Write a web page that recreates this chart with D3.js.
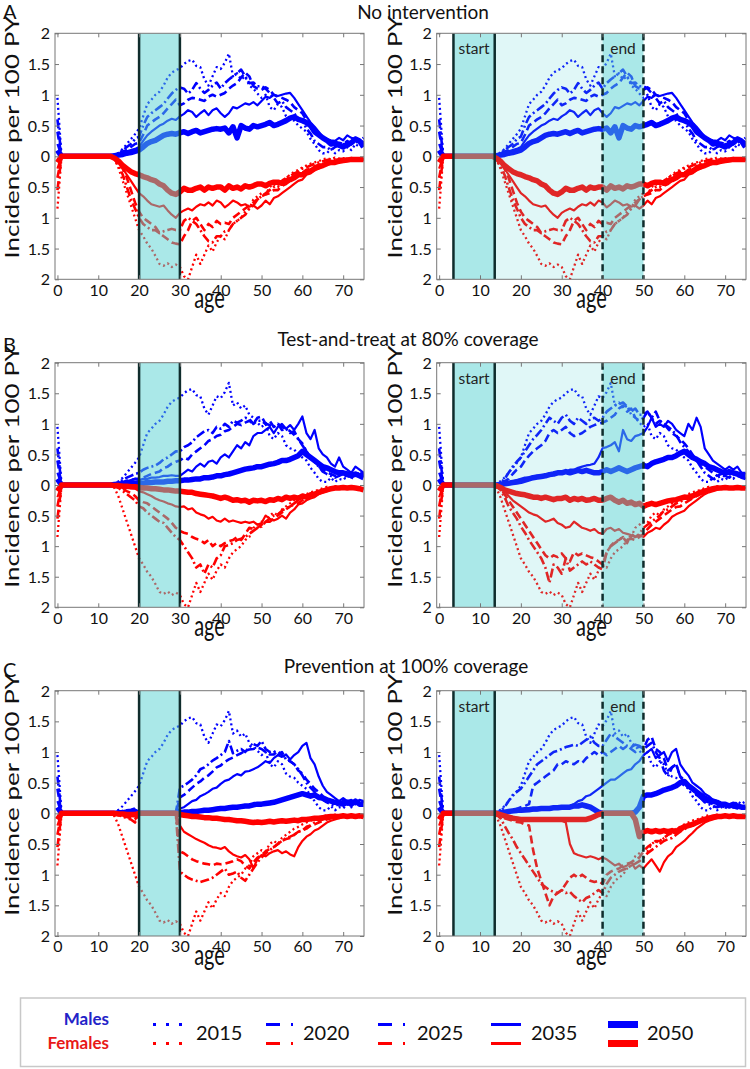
<!DOCTYPE html>
<html><head><meta charset="utf-8">
<script src="https://cdn.jsdelivr.net/npm/d3@7"></script>
<style>body{margin:0;background:#fff}svg{display:block}text{font-family:Lato,"Open Sans",sans-serif}</style>
</head><body>
<svg id="chart" width="750" height="1069"></svg>
<script>
// ---------------- DATA ----------------
const ages = d3.range(0, 76);
const years = ["2015", "2020", "2025", "2035", "2050"];
const yTicks = [-2, -1.5, -1, -0.5, 0, 0.5, 1, 1.5, 2];
const xTicks = [0, 10, 20, 30, 40, 50, 60, 70];
const panelTitles = ["No intervention", "Test-and-treat at 80% coverage", "Prevention at 100% coverage"];
const panelLetters = ["A", "B", "C"];

// 2015 curves (shared by all panels)
const male2015 = [
0.95,0,0,0,0,0,0,0,0,0,
0,0,0,0,0.02,0.06,0.12,0.2,0.28,0.36,
0.45,0.65,0.85,0.92,1.0,1.05,1.15,1.28,1.36,1.4,
1.43,1.5,1.55,1.57,1.47,1.45,1.25,1.15,1.3,1.45,
1.42,1.52,1.67,1.3,1.35,1.25,1.3,1.15,1.1,1.02,
0.95,1.0,0.8,0.75,0.85,0.8,0.65,0.6,0.58,0.5,
0.45,0.4,0.28,0.2,0.1,0.05,0.05,0.12,0.05,0.1,
0.08,0.15,0.1,0.2,0.15,0.2];
const female2015 = [
0.85,0,0,0,0,0,0,0,0,0,
0,0,0,0,0.05,0.2,0.4,0.6,0.8,1.0,
1.2,1.3,1.42,1.5,1.62,1.75,1.78,1.74,1.8,1.76,
1.8,1.95,2.0,1.8,1.6,1.75,1.6,1.45,1.55,1.4,
1.3,1.35,1.2,1.1,1.05,1.0,0.9,0.85,0.7,0.65,
0.6,0.62,0.5,0.45,0.5,0.4,0.35,0.3,0.25,0.22,
0.18,0.15,0.12,0.1,0.08,0.05,0.03,0.05,0.02,0.04,
0.03,0.05,0.04,0.05,0.06,0.05];

// A: no intervention (same in both A panels)
const maleA2020 = [
0.6,0,0,0,0,0,0,0,0,0,
0,0,0,0,0.02,0.05,0.1,0.15,0.2,0.28,
0.32,0.5,0.64,0.7,0.75,0.8,0.85,0.94,1.02,1.08,
1.12,1.1,1.02,1.08,1.19,1.1,1.03,1.08,1.15,1.2,
1.1,1.19,1.25,1.3,1.35,1.41,1.3,1.19,1.2,1.14,
1.14,1.1,1.03,0.95,0.86,0.9,0.8,0.75,0.7,0.6,
0.59,0.45,0.37,0.25,0.2,0.15,0.15,0.1,0.15,0.18,
0.2,0.15,0.2,0.25,0.2,0.25];
const maleA2025 = [
0.4,0,0,0,0,0,0,0,0,0,
0,0,0,0,0.01,0.04,0.08,0.1,0.15,0.2,
0.22,0.35,0.5,0.55,0.6,0.64,0.7,0.78,0.85,0.92,
0.83,0.86,0.92,0.95,0.94,0.92,0.9,0.97,1.0,0.97,
1.0,1.03,1.1,1.15,1.19,1.28,1.36,1.3,1.14,1.1,
1.08,1.12,1.08,1.0,0.97,0.95,0.92,0.88,0.8,0.75,
0.7,0.59,0.5,0.4,0.37,0.3,0.26,0.22,0.2,0.22,
0.2,0.25,0.2,0.3,0.25,0.3];
const maleA2035 = [
0.2,0,0,0,0,0,0,0,0,0,
0,0,0,0,0.01,0.03,0.05,0.08,0.1,0.12,
0.15,0.25,0.34,0.4,0.45,0.5,0.53,0.58,0.61,0.59,
0.65,0.69,0.75,0.72,0.64,0.7,0.75,0.67,0.75,0.78,
0.7,0.64,0.7,0.8,0.78,0.82,0.86,0.84,0.88,0.83,
0.9,0.97,0.95,1.0,0.98,1.0,1.02,1.03,0.95,0.85,
0.75,0.65,0.55,0.48,0.4,0.31,0.28,0.26,0.25,0.3,
0.26,0.34,0.3,0.28,0.24,0.2];
const maleA2050 = [
0.1,0,0,0,0,0,0,0,0,0,
0,0,0,0,0.01,0.02,0.03,0.05,0.06,0.08,
0.1,0.15,0.21,0.24,0.26,0.3,0.34,0.36,0.37,0.36,
0.38,0.4,0.37,0.4,0.42,0.38,0.4,0.42,0.44,0.45,
0.44,0.46,0.38,0.48,0.3,0.5,0.46,0.44,0.5,0.48,
0.5,0.52,0.55,0.5,0.52,0.55,0.58,0.62,0.64,0.6,
0.58,0.55,0.5,0.4,0.35,0.3,0.26,0.2,0.22,0.18,
0.15,0.2,0.22,0.28,0.25,0.15];
const femaleA2020 = [
0.55,0,0,0,0,0,0,0,0,0,
0,0,0,0,0.05,0.15,0.3,0.5,0.7,0.85,
1.0,1.1,1.15,1.2,1.2,1.25,1.22,1.2,1.18,1.2,
1.2,1.05,1.0,1.05,1.1,1.2,1.3,1.38,1.4,1.3,
1.3,1.22,1.2,1.1,1.05,1.0,0.95,0.85,0.8,0.7,
0.65,0.6,0.55,0.5,0.45,0.4,0.35,0.32,0.28,0.25,
0.2,0.18,0.15,0.12,0.1,0.08,0.06,0.05,0.05,0.04,
0.05,0.04,0.03,0.04,0.05,0.04];
const femaleA2025 = [
0.35,0,0,0,0,0,0,0,0,0,
0,0,0,0,0.04,0.1,0.2,0.35,0.55,0.75,
0.9,1.0,1.05,1.1,1.15,1.25,1.3,1.35,1.4,1.42,
1.43,1.3,1.2,1.05,1.0,1.1,1.2,1.1,1.15,1.05,
1.1,1.08,1.1,1.0,0.95,0.9,0.85,0.8,0.75,0.7,
0.65,0.62,0.6,0.55,0.55,0.48,0.45,0.4,0.35,0.3,
0.27,0.22,0.2,0.16,0.14,0.12,0.1,0.08,0.06,0.05,
0.04,0.05,0.04,0.05,0.06,0.05];
const femaleA2035 = [
0.2,0,0,0,0,0,0,0,0,0,
0,0,0,0,0.03,0.08,0.2,0.3,0.4,0.5,
0.6,0.65,0.72,0.78,0.8,0.82,0.8,0.88,0.95,1.0,
0.92,0.88,0.85,0.88,0.82,0.78,0.8,0.75,0.8,0.72,
0.75,0.83,0.78,0.72,0.75,0.8,0.78,0.82,0.8,0.85,
0.8,0.72,0.78,0.68,0.65,0.6,0.55,0.5,0.45,0.4,
0.38,0.3,0.28,0.22,0.2,0.15,0.12,0.1,0.1,0.08,
0.07,0.06,0.06,0.05,0.05,0.05];
const femaleA2050 = [
0.1,0,0,0,0,0,0,0,0,0,
0,0,0,0,0.03,0.08,0.15,0.2,0.25,0.28,
0.3,0.33,0.35,0.38,0.4,0.45,0.48,0.55,0.6,0.62,
0.58,0.52,0.55,0.55,0.52,0.5,0.55,0.5,0.52,0.5,
0.5,0.55,0.48,0.52,0.5,0.53,0.48,0.5,0.48,0.45,
0.45,0.48,0.44,0.42,0.42,0.44,0.4,0.38,0.35,0.3,
0.3,0.26,0.24,0.2,0.17,0.15,0.12,0.1,0.1,0.08,
0.07,0.06,0.05,0.05,0.05,0.05];

// B left: test-and-treat, ages 20-30
const maleBL2020 = [
0.6,0,0,0,0,0,0,0,0,0,
0,0,0,0,0.02,0.05,0.08,0.12,0.15,0.18,
0.2,0.25,0.28,0.3,0.32,0.36,0.42,0.45,0.5,0.55,
0.55,0.62,0.65,0.7,0.78,0.83,0.88,0.9,0.85,0.95,
0.92,1.0,0.95,1.05,1.02,1.05,1.1,1.08,1.0,1.05,
1.05,1.0,0.98,0.95,1.0,0.9,0.92,0.85,0.88,0.75,
0.65,0.55,0.45,0.38,0.3,0.22,0.18,0.15,0.12,0.15,
0.18,0.12,0.2,0.15,0.2,0.15];
const maleBL2025 = [
0.4,0,0,0,0,0,0,0,0,0,
0,0,0,0,0.01,0.03,0.05,0.07,0.08,0.1,
0.1,0.12,0.15,0.18,0.2,0.22,0.28,0.3,0.35,0.38,
0.4,0.45,0.42,0.5,0.55,0.6,0.65,0.72,0.75,0.8,
0.82,0.88,0.9,0.95,1.0,0.98,1.02,1.05,1.0,1.1,
1.12,1.0,1.05,0.95,1.0,0.95,0.92,0.88,0.82,0.75,
0.68,0.55,0.45,0.38,0.3,0.25,0.2,0.18,0.15,0.2,
0.18,0.22,0.2,0.15,0.2,0.18];
const maleBL2035 = [
0.2,0,0,0,0,0,0,0,0,0,
0,0,0,0,0.01,0.02,0.04,0.06,0.08,0.1,
0.08,0.1,0.1,0.12,0.12,0.13,0.15,0.15,0.16,0.15,
0.15,0.2,0.25,0.22,0.3,0.35,0.3,0.38,0.4,0.35,
0.45,0.5,0.45,0.55,0.65,0.6,0.7,0.65,0.8,0.85,
0.85,0.9,0.95,0.85,0.95,1.0,0.92,0.98,0.9,1.0,
1.12,0.85,0.75,0.9,0.6,0.5,0.45,0.35,0.3,0.45,
0.3,0.25,0.2,0.3,0.25,0.2];
const maleBL2050 = [
0.1,0,0,0,0,0,0,0,0,0,
0,0,0,0,0.01,0.01,0.02,0.02,0.03,0.03,
0.03,0.03,0.04,0.04,0.05,0.05,0.05,0.06,0.06,0.07,
0.07,0.08,0.08,0.09,0.1,0.1,0.12,0.12,0.13,0.15,
0.15,0.17,0.18,0.2,0.22,0.24,0.26,0.27,0.28,0.3,
0.3,0.32,0.34,0.35,0.37,0.4,0.4,0.42,0.45,0.48,
0.55,0.5,0.45,0.4,0.35,0.3,0.28,0.25,0.22,0.2,
0.2,0.18,0.15,0.18,0.15,0.12];
const femaleBL2020 = [
0.55,0,0,0,0,0,0,0,0,0,
0,0,0,0,0.02,0.05,0.1,0.15,0.2,0.25,
0.35,0.38,0.45,0.5,0.55,0.6,0.62,0.7,0.78,0.85,
0.9,1.0,1.1,1.2,1.35,1.3,1.45,1.3,1.35,1.2,
1.15,1.0,0.98,0.95,0.9,0.88,0.85,0.8,0.75,0.7,
0.68,0.6,0.55,0.5,0.48,0.42,0.38,0.35,0.3,0.25,
0.22,0.18,0.15,0.12,0.1,0.08,0.06,0.05,0.05,0.04,
0.04,0.05,0.04,0.05,0.06,0.05];
const femaleBL2025 = [
0.35,0,0,0,0,0,0,0,0,0,
0,0,0,0,0.01,0.03,0.06,0.1,0.13,0.18,
0.25,0.28,0.3,0.35,0.4,0.45,0.5,0.55,0.62,0.7,
0.75,0.78,0.8,0.85,0.88,0.9,0.95,0.9,1.0,0.95,
1.0,0.95,0.92,0.9,0.85,0.9,0.8,0.7,0.72,0.7,
0.65,0.6,0.6,0.55,0.5,0.45,0.4,0.35,0.32,0.3,
0.25,0.2,0.18,0.15,0.12,0.1,0.08,0.06,0.05,0.04,
0.05,0.04,0.05,0.04,0.05,0.06];
const femaleBL2035 = [
0.2,0,0,0,0,0,0,0,0,0,
0,0,0,0,0.01,0.02,0.03,0.04,0.05,0.06,
0.1,0.12,0.15,0.18,0.22,0.25,0.27,0.3,0.32,0.35,
0.36,0.35,0.4,0.38,0.45,0.48,0.5,0.55,0.52,0.58,
0.6,0.55,0.6,0.58,0.6,0.62,0.6,0.62,0.6,0.65,
0.62,0.5,0.55,0.58,0.55,0.5,0.55,0.45,0.4,0.32,
0.3,0.25,0.22,0.2,0.15,0.12,0.1,0.08,0.06,0.05,
0.05,0.04,0.05,0.04,0.05,0.05];
const femaleBL2050 = [
0.1,0,0,0,0,0,0,0,0,0,
0,0,0,0,0.01,0.01,0.02,0.02,0.03,0.03,
0.04,0.05,0.05,0.06,0.06,0.07,0.08,0.08,0.09,0.1,
0.1,0.11,0.12,0.12,0.14,0.15,0.16,0.17,0.18,0.2,
0.22,0.2,0.22,0.25,0.24,0.26,0.25,0.28,0.25,0.26,
0.25,0.27,0.24,0.25,0.22,0.24,0.2,0.22,0.2,0.22,
0.18,0.2,0.16,0.15,0.12,0.1,0.08,0.06,0.05,0.05,
0.04,0.05,0.04,0.05,0.06,0.08];

// B right: test-and-treat, cohort
const maleBR2020 = [
0.6,0,0,0,0,0,0,0,0,0,
0,0,0,0,0.01,0.03,0.1,0.2,0.3,0.38,
0.45,0.55,0.65,0.75,0.82,0.9,1.0,1.1,1.05,1.0,
1.1,1.15,1.05,1.0,1.1,1.05,1.0,1.08,1.1,1.05,
1.1,1.2,1.25,1.3,1.32,1.35,1.28,1.2,1.25,1.15,
1.15,1.2,1.1,1.2,1.05,1.0,0.95,0.9,0.82,0.7,
0.62,0.55,0.45,0.4,0.3,0.2,0.15,0.1,0.12,0.15,
0.15,0.12,0.18,0.15,0.12,0.1];
const maleBR2025 = [
0.4,0,0,0,0,0,0,0,0,0,
0,0,0,0,0.01,0.02,0.06,0.1,0.18,0.25,
0.3,0.4,0.48,0.55,0.6,0.65,0.72,0.85,0.9,0.85,
0.9,0.95,0.85,0.8,0.82,0.85,0.9,0.95,0.98,1.0,
1.02,1.05,1.1,1.15,1.25,1.3,1.2,1.25,1.1,1.05,
1.1,1.2,1.1,1.0,1.05,1.0,0.92,0.85,0.8,0.75,
0.68,0.6,0.5,0.4,0.35,0.3,0.25,0.2,0.15,0.18,
0.2,0.18,0.2,0.15,0.2,0.15];
const maleBR2035 = [
0.2,0,0,0,0,0,0,0,0,0,
0,0,0,0,0.01,0.01,0.02,0.04,0.06,0.08,
0.1,0.12,0.12,0.14,0.15,0.15,0.17,0.18,0.2,0.2,
0.2,0.22,0.25,0.25,0.28,0.3,0.32,0.33,0.35,0.45,
0.6,0.62,0.65,0.7,0.55,0.9,0.75,0.72,0.8,0.82,
0.85,0.95,1.1,0.95,1.0,0.95,1.05,1.0,0.9,0.85,
0.8,1.0,0.9,1.1,0.95,0.6,0.5,0.4,0.35,0.3,
0.25,0.3,0.25,0.3,0.2,0.2];
const maleBR2050 = [
0.1,0,0,0,0,0,0,0,0,0,
0,0,0,0,0,0.01,0.02,0.03,0.04,0.05,
0.06,0.08,0.1,0.12,0.13,0.14,0.15,0.17,0.18,0.2,
0.2,0.22,0.2,0.22,0.24,0.22,0.24,0.22,0.2,0.2,
0.22,0.25,0.22,0.25,0.28,0.25,0.22,0.25,0.28,0.3,
0.32,0.3,0.35,0.38,0.4,0.42,0.45,0.45,0.48,0.52,
0.55,0.5,0.45,0.42,0.38,0.35,0.3,0.28,0.25,0.22,
0.2,0.22,0.2,0.18,0.15,0.15];
const femaleBR2020 = [
0.55,0,0,0,0,0,0,0,0,0,
0,0,0,0,0.02,0.08,0.2,0.35,0.45,0.55,
0.68,0.78,0.9,1.0,1.1,1.2,1.35,1.6,1.3,1.35,
1.45,1.2,1.4,1.35,1.3,1.25,1.3,1.25,1.3,1.35,
1.38,1.1,1.0,0.95,0.9,0.85,0.95,0.8,0.85,0.8,
0.7,0.65,0.6,0.55,0.5,0.42,0.4,0.35,0.3,0.28,
0.22,0.2,0.18,0.15,0.12,0.1,0.08,0.06,0.05,0.04,
0.04,0.05,0.04,0.03,0.04,0.05];
const femaleBR2025 = [
0.35,0,0,0,0,0,0,0,0,0,
0,0,0,0,0.01,0.05,0.15,0.25,0.35,0.45,
0.55,0.65,0.75,0.85,0.95,1.05,1.15,1.2,1.15,1.18,
1.12,1.2,1.25,1.1,1.15,1.12,1.15,1.18,1.2,1.25,
1.3,1.1,1.0,0.92,0.9,0.85,0.9,0.88,0.9,0.85,
0.8,0.72,0.65,0.6,0.55,0.5,0.45,0.4,0.36,0.35,
0.3,0.26,0.22,0.18,0.15,0.12,0.1,0.08,0.06,0.05,
0.05,0.04,0.05,0.04,0.05,0.04];
const femaleBR2035 = [
0.2,0,0,0,0,0,0,0,0,0,
0,0,0,0,0.01,0.04,0.1,0.18,0.25,0.3,
0.35,0.4,0.45,0.48,0.5,0.55,0.6,0.58,0.55,0.62,
0.65,0.7,0.68,0.6,0.65,0.7,0.72,0.75,0.72,0.78,
0.8,0.72,0.7,0.75,0.72,0.78,0.8,0.82,0.85,0.82,
0.85,0.78,0.75,0.7,0.72,0.65,0.6,0.52,0.48,0.45,
0.42,0.35,0.3,0.25,0.2,0.15,0.12,0.1,0.08,0.06,
0.05,0.05,0.04,0.05,0.04,0.05];
const femaleBR2050 = [
0.1,0,0,0,0,0,0,0,0,0,
0,0,0,0,0.01,0.04,0.08,0.1,0.12,0.14,
0.15,0.16,0.18,0.2,0.2,0.22,0.2,0.22,0.24,0.22,
0.22,0.2,0.25,0.22,0.24,0.22,0.25,0.24,0.22,0.25,
0.25,0.22,0.2,0.25,0.28,0.25,0.3,0.28,0.32,0.3,
0.35,0.32,0.3,0.32,0.3,0.28,0.26,0.25,0.24,0.22,
0.2,0.2,0.18,0.15,0.12,0.1,0.08,0.06,0.05,0.05,
0.04,0.05,0.05,0.04,0.05,0.05];

// C left: prevention, ages 20-30
const maleCL2020 = [
0.6,0,0,0,0,0,0,0,0,0,
0,0,0,0,0.01,0.02,0.04,0.05,0.06,0.08,
0,0,0,0,0,0,0,0,0,0,
0.42,0.45,0.5,0.55,0.62,0.72,0.75,0.8,0.86,0.9,
0.95,1.0,1.18,0.98,1.02,1.05,1.0,1.08,1.13,1.1,
1.18,1.05,1.0,1.02,0.95,1.0,0.88,0.85,0.8,0.72,
0.62,0.5,0.42,0.35,0.28,0.22,0.18,0.15,0.12,0.15,
0.2,0.15,0.2,0.18,0.2,0.15];
const maleCL2025 = [
0.4,0,0,0,0,0,0,0,0,0,
0,0,0,0,0.01,0.02,0.03,0.04,0.05,0.06,
0,0,0,0,0,0,0,0,0,0,
0.26,0.3,0.36,0.42,0.48,0.52,0.58,0.62,0.68,0.75,
0.78,0.84,0.88,0.91,0.95,0.98,1.02,1.04,1.05,1.07,
1.05,1.0,0.96,0.96,1.02,0.95,0.91,0.85,0.8,0.7,
0.65,0.55,0.48,0.4,0.35,0.28,0.22,0.2,0.18,0.2,
0.22,0.18,0.2,0.15,0.2,0.18];
const maleCL2035 = [
0.2,0,0,0,0,0,0,0,0,0,
0,0,0,0,0.01,0.01,0.02,0.03,0.04,0.05,
0,0,0,0,0,0,0,0,0,0,
0.08,0.1,0.15,0.2,0.22,0.28,0.31,0.35,0.4,0.42,
0.48,0.53,0.55,0.6,0.64,0.62,0.68,0.69,0.72,0.75,
0.8,0.85,0.82,0.9,0.95,0.92,0.96,0.88,0.95,1.0,
1.1,1.15,0.9,0.8,0.6,0.45,0.35,0.3,0.25,0.2,
0.25,0.2,0.22,0.18,0.22,0.2];
const maleCL2050 = [
0.1,0,0,0,0,0,0,0,0,0,
0,0,0,0,0,0.01,0.01,0.02,0.02,0.03,
0,0,0,0,0,0,0,0,0,0,
0.01,0.02,0.02,0.03,0.03,0.04,0.05,0.05,0.06,0.07,
0.08,0.08,0.09,0.1,0.1,0.11,0.12,0.12,0.14,0.15,
0.15,0.16,0.17,0.18,0.2,0.22,0.24,0.26,0.28,0.3,
0.32,0.3,0.28,0.3,0.26,0.25,0.22,0.2,0.18,0.17,
0.15,0.18,0.15,0.2,0.15,0.15];
const femaleCL2020 = [
0.55,0,0,0,0,0,0,0,0,0,
0,0,0,0,0.01,0.03,0.05,0.08,0.1,0.15,
0,0,0,0,0,0,0,0,0,0,
0.95,1.0,1.05,1.08,1.1,1.12,1.1,1.08,1.05,1.0,
0.95,0.9,1.0,0.98,0.95,1.05,1.1,1.0,0.9,0.8,
0.72,0.65,0.6,0.55,0.5,0.45,0.4,0.38,0.35,0.3,
0.28,0.22,0.2,0.15,0.12,0.1,0.08,0.06,0.05,0.04,
0.05,0.04,0.05,0.04,0.03,0.04];
const femaleCL2025 = [
0.35,0,0,0,0,0,0,0,0,0,
0,0,0,0,0.01,0.02,0.04,0.06,0.08,0.1,
0,0,0,0,0,0,0,0,0,0,
0.62,0.65,0.7,0.75,0.78,0.8,0.82,0.83,0.85,0.82,
0.83,0.82,0.8,0.78,0.75,0.78,0.85,0.9,0.8,0.72,
0.68,0.62,0.58,0.55,0.5,0.45,0.42,0.4,0.35,0.3,
0.28,0.25,0.2,0.18,0.15,0.12,0.1,0.08,0.06,0.05,
0.04,0.05,0.04,0.05,0.04,0.05];
const femaleCL2035 = [
0.2,0,0,0,0,0,0,0,0,0,
0,0,0,0,0.01,0.01,0.02,0.03,0.04,0.05,
0,0,0,0,0,0,0,0,0,0,
0.2,0.3,0.34,0.38,0.42,0.45,0.48,0.52,0.55,0.56,
0.58,0.55,0.62,0.67,0.7,0.72,0.68,0.75,0.89,0.75,
0.68,0.7,0.65,0.62,0.6,0.65,0.62,0.67,0.7,0.55,
0.45,0.38,0.34,0.28,0.25,0.2,0.15,0.12,0.1,0.08,
0.06,0.05,0.05,0.04,0.05,0.05];
const femaleCL2050 = [
0.1,0,0,0,0,0,0,0,0,0,
0,0,0,0,0,0.01,0.01,0.02,0.02,0.02,
0,0,0,0,0,0,0,0,0,0,
0.02,0.03,0.04,0.05,0.05,0.06,0.07,0.07,0.08,0.08,
0.09,0.1,0.1,0.11,0.12,0.12,0.13,0.14,0.15,0.14,
0.15,0.14,0.13,0.14,0.13,0.12,0.13,0.12,0.11,0.12,
0.1,0.1,0.09,0.08,0.08,0.07,0.06,0.05,0.05,0.05,
0.04,0.05,0.04,0.05,0.04,0.05];

// C right: prevention, cohort
const maleCR2020 = [
0.6,0,0,0,0,0,0,0,0,0,
0,0,0,0,0.01,0.03,0.1,0.2,0.3,0.35,
0.4,0.5,0.6,0.7,0.8,0.85,0.9,0.95,1.0,1.02,
1.05,1.08,1.1,1.12,1.1,1.15,1.2,1.25,1.15,1.1,
1.1,1.2,1.3,1.25,1.2,1.15,1.1,1.08,1.12,1.1,
1.05,1.1,1.15,1.0,0.9,0.7,0.6,0.75,0.8,0.6,
0.55,0.45,0.4,0.3,0.25,0.18,0.15,0.12,0.1,0.12,
0.1,0.12,0.1,0.08,0.1,0.1];
const maleCR2025 = [
0.4,0,0,0,0,0,0,0,0,0,
0,0,0,0,0.01,0.01,0.02,0.03,0.05,0.07,
0.1,0.12,0.15,0.45,0.5,0.55,0.6,0.65,0.7,0.8,
0.8,0.85,0.82,0.8,0.85,0.82,0.9,0.95,1.0,0.95,
1.0,0.95,1.0,1.05,1.1,1.05,1.1,1.05,1.0,1.1,
1.05,1.2,1.25,1.05,1.0,0.9,0.7,0.75,0.8,0.6,
0.5,0.45,0.4,0.3,0.25,0.2,0.18,0.15,0.12,0.12,
0.1,0.12,0.1,0.12,0.1,0.08];
const maleCR2035 = [
0.2,0,0,0,0,0,0,0,0,0,
0,0,0,0,0,0.01,0.01,0.02,0.02,0.02,
0.03,0.03,0.04,0.05,0.05,0.06,0.06,0.07,0.08,0.08,
0.1,0.1,0.12,0.15,0.2,0.22,0.28,0.3,0.35,0.4,
0.45,0.5,0.55,0.55,0.6,0.65,0.7,0.72,0.8,0.85,
0.95,1.0,1.05,0.9,0.95,1.0,0.85,1.0,1.05,0.8,
0.7,0.62,0.5,0.45,0.4,0.32,0.28,0.22,0.2,0.15,
0.15,0.12,0.15,0.12,0.1,0.1];
const maleCR2050 = [
0.1,0,0,0,0,0,0,0,0,0,
0,0,0,0,0,0.01,0.02,0.03,0.04,0.05,
0.05,0.06,0.06,0.07,0.07,0.08,0.08,0.08,0.09,0.09,
0.1,0.1,0.1,0.12,0.12,0.14,0.12,0.1,0.06,0.02,
0,0,0,0,0,0,0,0,0.02,0.1,
0.28,0.3,0.3,0.32,0.35,0.38,0.4,0.42,0.45,0.5,
0.52,0.45,0.4,0.35,0.3,0.25,0.22,0.2,0.18,0.15,
0.15,0.12,0.15,0.12,0.1,0.1];
const femaleCR2020 = [
0.55,0,0,0,0,0,0,0,0,0,
0,0,0,0,0.02,0.08,0.2,0.32,0.42,0.55,
0.65,0.75,0.85,0.95,1.05,1.15,1.2,1.25,1.28,1.3,
1.25,1.3,1.28,1.35,1.4,1.45,1.38,1.35,1.3,1.25,
1.3,1.15,1.05,1.0,0.95,0.92,0.9,0.85,0.82,0.78,
0.72,0.65,0.6,0.55,0.5,0.45,0.42,0.4,0.35,0.3,
0.26,0.22,0.2,0.16,0.13,0.1,0.08,0.06,0.05,0.04,
0.04,0.05,0.04,0.05,0.04,0.05];
const femaleCR2025 = [
0.35,0,0,0,0,0,0,0,0,0,
0,0,0,0,0.01,0.05,0.08,0.1,0.12,0.14,
0.15,0.18,0.2,0.6,0.9,1.1,1.3,1.5,1.35,1.3,
1.25,1.15,1.05,1.0,1.05,1.0,1.05,1.1,1.12,1.1,
1.15,1.0,0.95,0.92,0.9,0.85,0.82,0.8,0.75,0.72,
0.62,0.55,0.5,0.45,0.45,0.4,0.35,0.32,0.3,0.28,
0.25,0.2,0.18,0.15,0.12,0.1,0.08,0.06,0.05,0.04,
0.05,0.04,0.05,0.04,0.05,0.05];
const femaleCR2035 = [
0.2,0,0,0,0,0,0,0,0,0,
0,0,0,0,0.01,0.02,0.04,0.05,0.06,0.07,
0.08,0.1,0.1,0.1,0.12,0.1,0.1,0.12,0.1,0.1,
0.12,0.15,0.5,0.65,0.68,0.7,0.72,0.7,0.72,0.75,
0.72,0.75,0.8,0.85,0.82,0.88,0.85,0.8,0.9,0.85,
0.9,0.82,0.75,0.85,0.95,0.8,0.7,0.65,0.55,0.5,
0.45,0.38,0.32,0.25,0.2,0.15,0.12,0.1,0.08,0.06,
0.05,0.05,0.04,0.05,0.04,0.05];
const femaleCR2050 = [
0.1,0,0,0,0,0,0,0,0,0,
0,0,0,0,0,0.02,0.04,0.06,0.08,0.09,
0.1,0.1,0.1,0.1,0.1,0.1,0.1,0.1,0.1,0.1,
0.1,0.1,0.1,0.1,0.1,0.1,0.1,0.08,0.05,0.02,
0,0,0,0,0,0,0,0,0.1,0.38,
0.3,0.28,0.3,0.28,0.3,0.28,0.3,0.28,0.3,0.25,
0.22,0.2,0.18,0.15,0.12,0.1,0.08,0.06,0.05,0.05,
0.04,0.05,0.04,0.05,0.05,0.05];

// shaded intervention bands (ages)
const leftBand = [20, 30];
const rightStart = [3.5, 13.6];
const rightEnd = [40, 50];

// ---------------- LAYOUT ----------------
const svg = d3.select("#chart");
const cols = [{x0: 55, x1: 364}, {x0: 436.7, x1: 746}];
const rows = [{y0: 33.3, y1: 279.3}, {y0: 362.7, y1: 607.3}, {y0: 690.7, y1: 936}];
const titleY = [19, 346, 673];
const titleX = [423, 408, 406];
const letterY = [19, 352, 677];

const panels = [
  {r: 0, c: 0, m: [male2015, maleA2020, maleA2025, maleA2035, maleA2050], f: [female2015, femaleA2020, femaleA2025, femaleA2035, femaleA2050]},
  {r: 0, c: 1, m: [male2015, maleA2020, maleA2025, maleA2035, maleA2050], f: [female2015, femaleA2020, femaleA2025, femaleA2035, femaleA2050]},
  {r: 1, c: 0, m: [male2015, maleBL2020, maleBL2025, maleBL2035, maleBL2050], f: [female2015, femaleBL2020, femaleBL2025, femaleBL2035, femaleBL2050]},
  {r: 1, c: 1, m: [male2015, maleBR2020, maleBR2025, maleBR2035, maleBR2050], f: [female2015, femaleBR2020, femaleBR2025, femaleBR2035, femaleBR2050]},
  {r: 2, c: 0, m: [male2015, maleCL2020, maleCL2025, maleCL2035, maleCL2050], f: [female2015, femaleCL2020, femaleCL2025, femaleCL2035, femaleCL2050]},
  {r: 2, c: 1, m: [male2015, maleCR2020, maleCR2025, maleCR2035, maleCR2050], f: [female2015, femaleCR2020, femaleCR2025, femaleCR2035, femaleCR2050]}
];

const styles = [
  {dash: "2,3", w: 2.3},
  {dash: "9,3,2,3", w: 2.6},
  {dash: "8,4", w: 2.6},
  {dash: null, w: 2.2},
  {dash: null, w: 5.5}
];
const MALE = "#0000ff", FEMALE = "#ff0000";
const BAND = "#55d1d1";
const FRAME = "#777";
const VLINE = "#0f2c2c";

panels.forEach((p, i) => {
  const col = cols[p.c], row = rows[p.r];
  const x = d3.scaleLinear().domain([-0.6, 75.1]).range([col.x0, col.x1]);
  const y = d3.scaleLinear().domain([-2, 2]).range([row.y1, row.y0]);
  const g = svg.append("g");
  const cid = "clip" + i;
  svg.append("clipPath").attr("id", cid).append("rect")
    .attr("x", col.x0).attr("y", row.y0).attr("width", col.x1 - col.x0).attr("height", row.y1 - row.y0);
  const plot = g.append("g").attr("clip-path", `url(#${cid})`);

  const line = (sign) => d3.line().x((d, k) => x(ages[k])).y(d => y(sign * d));

  p.m.forEach((s, k) => {
    plot.append("path").attr("d", line(1)(s)).attr("fill", "none")
      .attr("stroke", MALE).attr("stroke-width", styles[k].w)
      .attr("stroke-dasharray", styles[k].dash).attr("stroke-linejoin", "round");
  });
  p.f.forEach((s, k) => {
    plot.append("path").attr("d", line(-1)(s)).attr("fill", "none")
      .attr("stroke", FEMALE).attr("stroke-width", styles[k].w)
      .attr("stroke-dasharray", styles[k].dash).attr("stroke-linejoin", "round");
  });

  // shading overlays
  const band = (a, b, op) => plot.append("rect").attr("x", x(a)).attr("width", x(b) - x(a))
    .attr("y", row.y0).attr("height", row.y1 - row.y0).attr("fill", BAND).attr("fill-opacity", op);
  const vline = (a, dashed) => plot.append("line").attr("x1", x(a)).attr("x2", x(a))
    .attr("y1", row.y0).attr("y2", row.y1).attr("stroke", VLINE).attr("stroke-width", 2.5)
    .attr("stroke-dasharray", dashed ? "7,4" : null);
  if (p.c === 0) {
    band(leftBand[0], leftBand[1], 0.5);
    vline(leftBand[0]); vline(leftBand[1]);
  } else {
    band(rightStart[0], rightStart[1], 0.5);
    band(rightStart[1], rightEnd[0], 0.18);
    band(rightEnd[0], rightEnd[1], 0.5);
    vline(rightStart[0]); vline(rightStart[1]);
    vline(rightEnd[0], true); vline(rightEnd[1], true);
    plot.append("text").attr("x", (x(rightStart[0]) + x(rightStart[1])) / 2).attr("y", row.y0 + 21)
      .attr("text-anchor", "middle").attr("font-size", 15.5).attr("fill", "#222").text("start");
    plot.append("text").attr("x", (x(rightEnd[0]) + x(rightEnd[1])) / 2).attr("y", row.y0 + 21)
      .attr("text-anchor", "middle").attr("font-size", 15.5).attr("fill", "#222").text("end");
  }

  // frame and axes
  g.append("rect").attr("x", col.x0).attr("y", row.y0).attr("width", col.x1 - col.x0)
    .attr("height", row.y1 - row.y0).attr("fill", "none").attr("stroke", FRAME).attr("stroke-width", 1);
  const fmt = v => String(Math.abs(v));
  const ay = g.append("g").attr("transform", `translate(${col.x0},0)`)
    .call(d3.axisLeft(y).tickValues(yTicks).tickFormat(fmt).tickSize(-4).tickPadding(5));
  const ay2 = g.append("g").attr("transform", `translate(${col.x1},0)`)
    .call(d3.axisRight(y).tickValues(yTicks).tickFormat("").tickSize(-4));
  const ax = g.append("g").attr("transform", `translate(0,${row.y1})`)
    .call(d3.axisBottom(x).tickValues(xTicks).tickFormat(d3.format("d")).tickSize(-4).tickPadding(5));
  const ax2 = g.append("g").attr("transform", `translate(0,${row.y0})`)
    .call(d3.axisTop(x).tickValues(xTicks).tickFormat("").tickSize(-4));
  [ay, ay2, ax, ax2].forEach(a => {
    a.select(".domain").remove();
    a.selectAll(".tick line").attr("stroke", FRAME);
    a.selectAll("text").attr("font-size", 16).attr("font-family", "Lato").attr("fill", "#111");
  });
  ay.selectAll("text").attr("dy", "0.35em");

  // x label (tall glyphs as in the reference)
  g.append("text").attr("transform", `translate(${(col.x0 + col.x1) / 2},${row.y1 + 29}) scale(1,1.4)`)
    .attr("text-anchor", "middle").attr("font-size", 20).attr("fill", "#111").text("age");
  // y label, stretched along its length to the reference's extent
  const lx = p.c === 0 ? 19 : 402;
  const cy = row.y0 + 104;
  const yl = g.append("text").attr("text-anchor", "middle").attr("font-size", 20).attr("fill", "#111")
    .text("Incidence per 100 PY");
  const L = yl.node().getComputedTextLength() || 190;
  yl.attr("transform", `translate(${lx},${cy}) rotate(-90) scale(${243 / L},1)`);
});

// titles and panel letters
panelTitles.forEach((t, r) => {
  svg.append("text").attr("x", titleX[r]).attr("y", titleY[r]).attr("text-anchor", "middle")
    .attr("font-size", 19).attr("fill", "#111").text(t);
  svg.append("text").attr("x", 3).attr("y", letterY[r]).attr("font-size", 20).attr("fill", "#111").text(panelLetters[r]);
});

// ---------------- LEGEND ----------------
const lg = svg.append("g");
lg.append("rect").attr("x", 20.5).attr("y", 998).attr("width", 725).attr("height", 68.5)
  .attr("fill", "#fff").attr("stroke", "#c8c8c8").attr("stroke-width", 1.5);
lg.append("text").attr("x", 109).attr("y", 1025).attr("text-anchor", "end").attr("font-size", 17)
  .attr("font-weight", "bold").attr("fill", "#2323c8").text("Males");
lg.append("text").attr("x", 109).attr("y", 1049).attr("text-anchor", "end").attr("font-size", 17)
  .attr("font-weight", "bold").attr("fill", "#e81818").text("Females");
const legX = [153, 266, 378, 491, 608];
const legTextX = [196, 303, 417, 531, 647];
const legStyles = [
  {dash: "3,10", w: 3},
  {dash: "14,11,2,10", w: 3},
  {dash: "14,11,2,10", w: 3},
  {dash: null, w: 3},
  {dash: null, w: 7}
];
years.forEach((yr, k) => {
  [[1024.5, MALE], [1043.5, FEMALE]].forEach(([yy, c]) => {
    lg.append("line").attr("x1", legX[k]).attr("x2", legX[k] + 30).attr("y1", yy).attr("y2", yy)
      .attr("stroke", c).attr("stroke-width", legStyles[k].w).attr("stroke-dasharray", legStyles[k].dash);
  });
  lg.append("text").attr("x", legTextX[k]).attr("y", 1040).attr("font-size", 20).attr("fill", "#111").text(yr);
});
</script>
</body></html>
